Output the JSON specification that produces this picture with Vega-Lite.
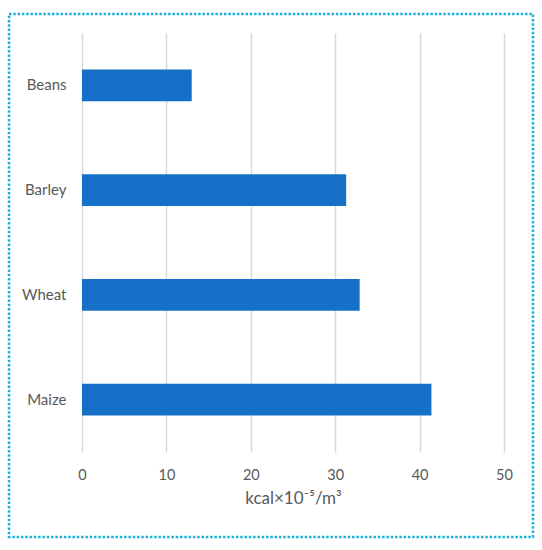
{
  "$schema": "https://vega.github.io/schema/vega-lite/v6.json",
  "width": 524,
  "height": 523,
  "autosize": {"type": "none"},
  "padding": {"left": 9, "top": 14, "right": 9, "bottom": 13},
  "background": "white",
  "config": {
    "view": {"stroke": "#1fb1d9", "strokeWidth": 2.5, "strokeDash": [2.5, 1.8]},
    "font": "Lato"
  },
  "data": {
    "values": [
      {"crop": "Beans", "value": 13.0},
      {"crop": "Barley", "value": 31.3},
      {"crop": "Wheat", "value": 32.9},
      {"crop": "Maize", "value": 41.4}
    ]
  },
  "mark": {"type": "bar", "color": "#1770c8"},
  "encoding": {
    "y": {
      "field": "crop",
      "type": "nominal",
      "sort": ["Beans", "Barley", "Wheat", "Maize"],
      "scale": {"range": [19, 438], "paddingInner": 0.695, "paddingOuter": 0.3475},
      "axis": {
        "title": null,
        "domain": false,
        "ticks": false,
        "tickSize": 0,
        "grid": false,
        "offset": -73,
        "labelPadding": 16,
        "labelFontSize": 15,
        "labelColor": "#595959",
        "labelFont": "Lato"
      }
    },
    "x": {
      "field": "value",
      "type": "quantitative",
      "scale": {"domain": [0, 50], "nice": false, "range": [73, 495]},
      "axis": {
        "orient": "top",
        "values": [0, 10, 20, 30, 40, 50],
        "title": "kcal×10⁻⁵/m³",
        "domain": false,
        "ticks": false,
        "tickSize": 0,
        "grid": true,
        "gridColor": "#d9d9d9",
        "gridWidth": 1.5,
        "offset": -465,
        "labelPadding": 0,
        "labelBaseline": "alphabetic",
        "labelFlush": false,
        "labelFontSize": 14.5,
        "labelColor": "#595959",
        "labelFont": "Lato",
        "titleFont": "Lato",
        "titleFontSize": 17,
        "titleFontWeight": "normal",
        "titleColor": "#595959",
        "titleY": 24,
        "titleBaseline": "alphabetic"
      }
    }
  }
}
